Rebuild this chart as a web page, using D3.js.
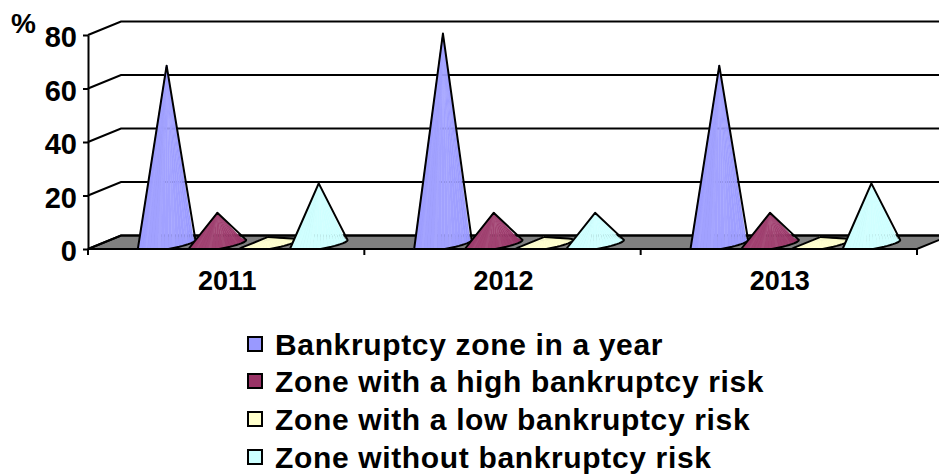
<!DOCTYPE html>
<html>
<head>
<meta charset="utf-8">
<script src="https://cdn.jsdelivr.net/npm/d3@7"></script>
<style>
  body { margin: 0; background: #fff; }
  svg { display: block; }
  text { font-family: "Liberation Sans", Arial, sans-serif; font-weight: bold; fill: #000; }
</style>
</head>
<body>
<div id="chart"></div>
<script>
const years = ['2011', '2012', '2013'];
const seriesNames = ['Bankruptcy zone in a year', 'Zone with a high bankruptcy risk', 'Zone with a low bankruptcy risk', 'Zone without bankruptcy risk'];
const seriesColors = ['#9999ff', '#993366', '#ffffcc', '#ccffff'];
const bankruptcyZone = [66, 78, 66];
const highRisk = [11, 11, 11];
const lowRisk = [2, 2, 2];
const noRisk = [22, 11, 22];
const seriesValues = [bankruptcyZone, highRisk, lowRisk, noRisk];
const yTicks = [0, 20, 40, 60, 80];

const width = 939, height = 474;
// oblique shift of the back wall
const depthX = 33, depthY = 13.5;

const svg = d3.select('#chart').append('svg').attr('width', width).attr('height', height);

const x0 = d3.scaleBand().domain(years).range([88, 917]);
const x1 = d3.scaleBand().domain(seriesNames).range([0, x0.bandwidth()]).paddingInner(0).paddingOuter(0.725);
const y = d3.scaleLinear().domain([0, 80]).range([249, 35]);

// floor
svg.append('path')
  .attr('d', `M88,${y(0)}L${88 + depthX},${y(0) - depthY}L${917 + depthX},${y(0) - depthY}L917,${y(0)}Z`)
  .attr('fill', '#808080').attr('stroke', '#000').attr('stroke-width', 2);

// gridlines: side wall + back wall
const grid = svg.append('g').attr('fill', 'none').attr('stroke', '#000').attr('stroke-width', 2);
yTicks.forEach(t => {
  grid.append('path').attr('d', `M88,${y(t)}L${88 + depthX},${y(t) - depthY}L${917 + depthX},${y(t) - depthY}`);
});

// axes
const yAxis = svg.append('g').attr('transform', 'translate(88,0)')
  .call(d3.axisLeft(y).tickValues(yTicks).tickSize(5).tickSizeOuter(0));
yAxis.select('.domain').attr('stroke', '#000').attr('stroke-width', 2);
yAxis.selectAll('line').attr('stroke', '#000').attr('stroke-width', 2);
yAxis.selectAll('text').attr('x', -11).attr('dy', '0.4em').style('font-size', '29px').style('font-family', '"Liberation Sans", Arial, sans-serif').style('font-weight', 'bold');

svg.append('path').attr('d', `M88,${y(0)}V255`).attr('stroke', '#000').attr('stroke-width', 2);
const bandTicks = years.map(d => x0(d) + x0.bandwidth());
svg.selectAll('.tick-x').data(bandTicks).enter().append('path')
  .attr('d', d => `M${d},${y(0)}V255`).attr('stroke', '#000').attr('stroke-width', 2);

svg.selectAll('.year').data(years).enter().append('text')
  .attr('x', d => x0(d) + x0.bandwidth() / 2 + 1)
  .attr('y', 290)
  .attr('text-anchor', 'middle')
  .style('font-size', '27px')
  .text(d => d);

svg.append('text').attr('x', 11).attr('y', 33).style('font-size', '28px').text('%');

// cone: fan of facets from the tip to a sheared circle, cut off at the floor's front edge
const tipShift = depthY / 2;
const baseCentre = y(0) - 4, baseLift = 6.5;
const radius = 19, shear = 21.7;
function basePoint(cx, t) {
  return [cx + radius * Math.cos(t) + shear * Math.sin(t),
          Math.min(y(0), baseCentre - baseLift * Math.sin(t))];
}
const steps = 48;
const angles = d3.range(steps + 1).map(i => i / steps * 2 * Math.PI);

function shade(color, t, i) {
  // darker to the left, brightest right of centre, thin streaks between facets
  const k = Math.cos(t + Math.PI / 2 - 0.6) + (i % 4 === 0 ? 0.45 : 0);
  const c = d3.color(color);
  return k > 0 ? d3.interpolateRgb(c, '#fff')(k * 0.08) : d3.interpolateRgb(c, '#000')(-k * 0.17);
}

years.forEach((year, yi) => {
  seriesNames.forEach((name, si) => {
    const cx = x0(year) + x1(name) + x1.bandwidth() / 2 + depthX / 2;
    const tip = [cx, y(seriesValues[si][yi]) - tipShift];
    const pts = angles.map(t => basePoint(cx, t));
    const g = svg.append('g');
    g.append('path').attr('d', d3.line()(pts)).attr('fill', d3.color(seriesColors[si]).darker(0.3));
    d3.range(steps).forEach(i => {
      const a = angles[i], b = angles[i + 1];
      // skip back side facets
      if (Math.sin((a + b) / 2) > 0.5) return;
      const fill = shade(seriesColors[si], (a + b) / 2, i);
      g.append('path')
        .attr('d', d3.line()([tip, pts[i], pts[i + 1]]) + 'Z')
        .attr('fill', fill)
        .attr('stroke', fill)
        .attr('stroke-width', 0.4);
    });
    const hull = d3.polygonHull(pts.concat([tip]));
    g.append('path').attr('d', d3.line()(hull) + 'Z')
      .attr('fill', 'none').attr('stroke', '#000').attr('stroke-width', 2).attr('stroke-linejoin', 'round');
  });
});

// legend
const legendY = [336, 373, 411, 449];
const legend = svg.selectAll('.legend').data(seriesNames).enter().append('g')
  .attr('transform', (d, i) => `translate(247,${legendY[i]})`);
legend.append('rect').attr('x', 1).attr('y', 1).attr('width', 14).attr('height', 14)
  .attr('fill', (d, i) => seriesColors[i]).attr('stroke', '#000').attr('stroke-width', 2);
legend.append('text').attr('x', 28).attr('y', 19)
  .style('font-size', '30px').style('letter-spacing', '0.65px').text(d => d);
</script>
</body>
</html>
